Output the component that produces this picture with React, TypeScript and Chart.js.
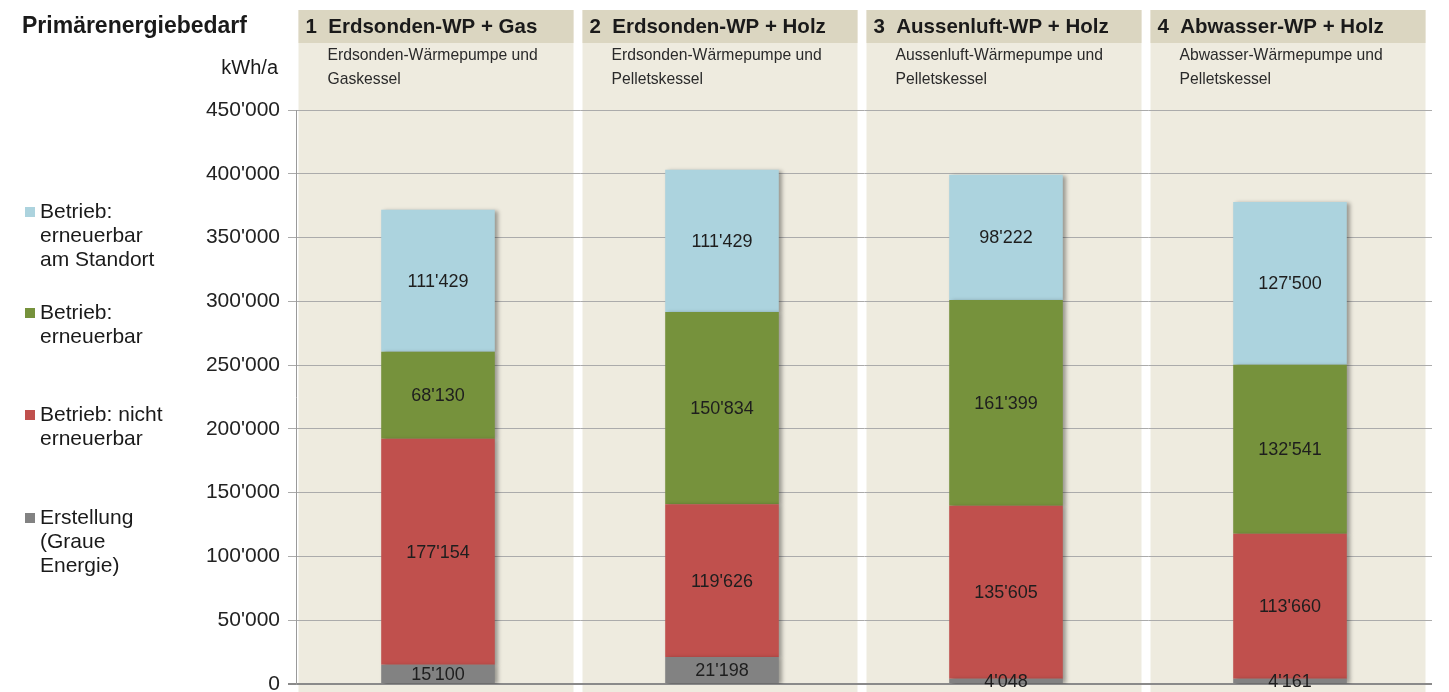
import React, { useEffect, useRef } from "react";
import { Chart, registerables } from "chart.js";

Chart.register(...registerables);

const categories = ["1", "2", "3", "4"];
const headerTitles = [
  "1  Erdsonden-WP + Gas",
  "2  Erdsonden-WP + Holz",
  "3  Aussenluft-WP + Holz",
  "4  Abwasser-WP + Holz",
];
const headerSubtitles = [
  ["Erdsonden-Wärmepumpe und", "Gaskessel"],
  ["Erdsonden-Wärmepumpe und", "Pelletskessel"],
  ["Aussenluft-Wärmepumpe und", "Pelletskessel"],
  ["Abwasser-Wärmepumpe und", "Pelletskessel"],
];

const erstellung = [15100, 21198, 4048, 4161];
const nichtErneuerbar = [177154, 119626, 135605, 113660];
const erneuerbar = [68130, 150834, 161399, 132541];
const erneuerbarStandort = [111429, 111429, 98222, 127500];

const seriesLabels = [
  ["Erstellung", "(Graue", "Energie)"],
  ["Betrieb: nicht", "erneuerbar"],
  ["Betrieb:", "erneuerbar"],
  ["Betrieb:", "erneuerbar", "am Standort"],
];
const seriesColors = ["#828282", "#c0504d", "#76923c", "#acd3de"];

const yMin = 0;
const yMax = 450000;
const yStep = 50000;

const fmt = (v: number) =>
  Math.round(v)
    .toString()
    .replace(/\B(?=(\d{3})+(?!\d))/g, "'");

const FONT = "'Liberation Sans', Arial, sans-serif";

export default function App() {
  const ref = useRef<HTMLCanvasElement | null>(null);

  useEffect(() => {
    if (!ref.current) return;

    const backgroundPlugin = {
      id: "panels",
      beforeDraw(chart: any) {
        const { ctx, chartArea, width, height } = chart;
        ctx.save();
        ctx.fillStyle = "#ffffff";
        ctx.fillRect(0, 0, width, height);
        const n = categories.length;
        const cw = (chartArea.right - chartArea.left) / n;
        for (let i = 0; i < n; i++) {
          const x0 = chartArea.left + i * cw + 2.5;
          const w = cw - 9;
          ctx.fillStyle = "#eeebdf";
          ctx.fillRect(x0, 10, w, height - 10);
          ctx.fillStyle = "#dbd6c1";
          ctx.fillRect(x0, 10, w, 33);
          ctx.fillStyle = "#1a1a1a";
          ctx.font = `bold 20.5px ${FONT}`;
          ctx.textBaseline = "middle";
          ctx.textAlign = "left";
          ctx.fillText(headerTitles[i], x0 + 7, 27);
          ctx.font = `15.7px ${FONT}`;
          ctx.fillStyle = "#2a2a2a";
          headerSubtitles[i].forEach((t, k) => {
            ctx.fillText(t, x0 + 29, 56 + k * 24);
          });
        }
        // title + unit
        ctx.fillStyle = "#1a1a1a";
        ctx.font = `bold 23px ${FONT}`;
        ctx.textAlign = "left";
        ctx.fillText("Primärenergiebedarf", 22, 27);
        ctx.font = `20px ${FONT}`;
        ctx.textAlign = "right";
        ctx.fillText("kWh/a", 278, 68);
        // legend (top to bottom: reversed series order)
        const legendY = [212, 313, 415, 518];
        ctx.textAlign = "left";
        ctx.font = `21px ${FONT}`;
        for (let j = 0; j < 4; j++) {
          const s = 3 - j;
          ctx.fillStyle = seriesColors[s];
          ctx.fillRect(25, legendY[j] - 5, 10, 10);
          ctx.fillStyle = "#1a1a1a";
          seriesLabels[s].forEach((t, k) => {
            ctx.fillText(t, 40, legendY[j] + k * 24);
          });
        }
        ctx.restore();
      },
      beforeDatasetsDraw(chart: any) {
        const { ctx } = chart;
        ctx.save();
        ctx.shadowColor = "rgba(0,0,0,0.35)";
        ctx.shadowBlur = 4;
        ctx.shadowOffsetX = 3;
        ctx.shadowOffsetY = 1;
      },
      afterDatasetsDraw(chart: any) {
        const { ctx } = chart;
        ctx.restore();
        ctx.save();
        ctx.font = `18px ${FONT}`;
        ctx.fillStyle = "#1e1e1e";
        ctx.textAlign = "center";
        ctx.textBaseline = "middle";
        chart.data.datasets.forEach((ds: any, di: number) => {
          const meta = chart.getDatasetMeta(di);
          meta.data.forEach((el: any, i: number) => {
            const y = (el.y + el.base) / 2;
            ctx.fillText(fmt(ds.data[i]), el.x, y + 1);
          });
        });
        ctx.restore();
      },
    };

    const chart = new Chart(ref.current, {
      type: "bar",
      data: {
        labels: categories,
        datasets: [
          { label: seriesLabels[0].join(" "), data: erstellung, backgroundColor: seriesColors[0] },
          { label: seriesLabels[1].join(" "), data: nichtErneuerbar, backgroundColor: seriesColors[1] },
          { label: seriesLabels[2].join(" "), data: erneuerbar, backgroundColor: seriesColors[2] },
          { label: seriesLabels[3].join(" "), data: erneuerbarStandort, backgroundColor: seriesColors[3] },
        ],
      },
      options: {
        responsive: false,
        animation: false,
        layout: { padding: { left: 0, top: 110, right: 17, bottom: 8 } },
        datasets: {
          bar: { categoryPercentage: 1, barPercentage: 0.4, borderWidth: 0 },
        },
        plugins: {
          legend: { display: false },
          tooltip: { enabled: false },
          title: { display: false },
        },
        scales: {
          x: {
            stacked: true,
            display: false,
          },
          y: {
            stacked: true,
            min: yMin,
            max: yMax,
            afterFit(scale: any) {
              scale.width = 296;
              scale.paddingTop = 0;
              scale.paddingBottom = 0;
            },
            ticks: {
              stepSize: yStep,
              padding: 8,
              color: "#222222",
              font: { size: 21, family: FONT },
              callback: (v: any) => fmt(Number(v)),
            },
            grid: {
              color: (c: any) => (c.tick && c.tick.value === 0 ? "#8a8a8a" : "#ababab"),
              lineWidth: (c: any) => (c.tick && c.tick.value === 0 ? 2 : 1),
              tickLength: 8,
              drawTicks: true,
            },
            border: { display: true, color: "#9a9a9a", width: 1 },
          },
        },
      },
      plugins: [backgroundPlugin],
    });

    return () => chart.destroy();
  }, []);

  return (
    <div style={{ position: "fixed", left: 0, top: 0, width: 1449, height: 692 }}>
      <canvas ref={ref} width={1449} height={692} style={{ display: "block" }} />
    </div>
  );
}
